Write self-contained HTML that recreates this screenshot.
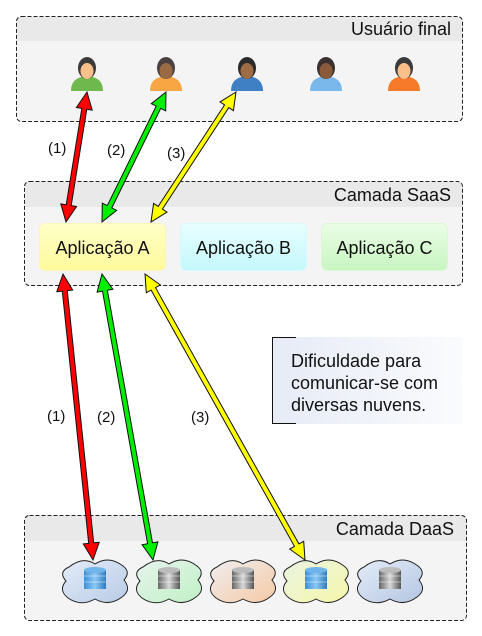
<!DOCTYPE html>
<html><head><meta charset="utf-8"><style>
html,body{margin:0;padding:0;background:#fff;}
svg{display:block;font-family:"Liberation Sans",sans-serif;}
</style></head><body>
<svg id="s" width="482" height="636" viewBox="0 0 482 636" xmlns="http://www.w3.org/2000/svg">
<defs>
<linearGradient id="ga" x1="0" y1="0" x2="0" y2="1"><stop offset="0" stop-color="#ffffc8"/><stop offset="1" stop-color="#fdfa9a"/></linearGradient>
<linearGradient id="gb" x1="0" y1="0" x2="0" y2="1"><stop offset="0" stop-color="#e8feff"/><stop offset="1" stop-color="#c4f8fc"/></linearGradient>
<linearGradient id="gc" x1="0" y1="0" x2="0" y2="1"><stop offset="0" stop-color="#eafde6"/><stop offset="1" stop-color="#c8f5c0"/></linearGradient>
<linearGradient id="gn" x1="0" y1="0" x2="1" y2="0"><stop offset="0" stop-color="#e6ebf6"/><stop offset="1" stop-color="#fafbfd"/></linearGradient>
<linearGradient id="c1" x1="0" y1="0" x2="1" y2="1"><stop offset="0" stop-color="#e4ecf8"/><stop offset="1" stop-color="#b8cbe6"/></linearGradient>
<linearGradient id="c2" x1="0" y1="0" x2="1" y2="1"><stop offset="0" stop-color="#e8f4ee"/><stop offset="1" stop-color="#bff0c4"/></linearGradient>
<linearGradient id="c3" x1="0" y1="0" x2="1" y2="1"><stop offset="0" stop-color="#f0eef0"/><stop offset="1" stop-color="#f5c9a4"/></linearGradient>
<linearGradient id="c4" x1="0" y1="0" x2="1" y2="1"><stop offset="0" stop-color="#eaf4e4"/><stop offset="1" stop-color="#f6f7a8"/></linearGradient>
<linearGradient id="c5" x1="0" y1="0" x2="1" y2="1"><stop offset="0" stop-color="#e4ecf8"/><stop offset="1" stop-color="#b4c6e2"/></linearGradient>
<linearGradient id="dbb" x1="0" y1="0" x2="1" y2="0"><stop offset="0" stop-color="#3d8fd6"/><stop offset="0.5" stop-color="#8cc8f4"/><stop offset="1" stop-color="#2f7ac0"/></linearGradient>
<linearGradient id="dbg" x1="0" y1="0" x2="1" y2="0"><stop offset="0" stop-color="#666"/><stop offset="0.5" stop-color="#d8d8d8"/><stop offset="1" stop-color="#555"/></linearGradient>
</defs>

<rect x="16.5" y="16.5" width="446" height="105" rx="5" fill="#f4f4f4"/>
<rect x="17" y="17" width="445" height="24" fill="#e9e9e9"/>
<rect x="16.5" y="16.5" width="446" height="105" rx="5" fill="none" stroke="#222" stroke-dasharray="4,2"/>
<text x="451" y="35" font-size="18" text-anchor="end" fill="#111">Usuário final</text>

<rect x="24.5" y="181.5" width="438" height="104" rx="5" fill="#f4f4f4"/>
<rect x="25" y="182" width="437" height="25" fill="#e9e9e9"/>
<rect x="24.5" y="181.5" width="438" height="104" rx="5" fill="none" stroke="#222" stroke-dasharray="4,2"/>
<text x="451" y="201" font-size="18" text-anchor="end" fill="#111">Camada SaaS</text>
<rect x="39.5" y="223.5" width="126" height="47" rx="6" fill="url(#ga)" stroke="#fbf6b8"/>
<rect x="180.5" y="223.5" width="126" height="47" rx="6" fill="url(#gb)" stroke="#d4fafe"/>
<rect x="321.5" y="223.5" width="126" height="47" rx="6" fill="url(#gc)" stroke="#dbf7d6"/>
<text x="102.5" y="254" font-size="18" text-anchor="middle" fill="#111">Aplicação A</text>
<text x="243.5" y="254" font-size="18" text-anchor="middle" fill="#111">Aplicação B</text>
<text x="384.5" y="254" font-size="18" text-anchor="middle" fill="#111">Aplicação C</text>

<rect x="272" y="337" width="190" height="87" fill="url(#gn)"/>
<path d="M296 337.5H272.5V423.5H296" fill="none" stroke="#111"/>
<text font-size="18" fill="#111"><tspan x="291" y="367">Dificuldade para</tspan><tspan x="291" y="389">comunicar-se com</tspan><tspan x="291" y="411">diversas nuvens.</tspan></text>

<rect x="24.5" y="515.5" width="442" height="105" rx="5" fill="#f4f4f4"/>
<rect x="25" y="516" width="441" height="25" fill="#e9e9e9"/>
<rect x="24.5" y="515.5" width="442" height="105" rx="5" fill="none" stroke="#222" stroke-dasharray="4,2"/>
<text x="454" y="535" font-size="18" text-anchor="end" fill="#111">Camada DaaS</text>

<g font-size="15" fill="#111">
<text x="48" y="153">(1)</text><text x="107" y="155">(2)</text><text x="167" y="158">(3)</text>
<text x="47" y="421">(1)</text><text x="97" y="422">(2)</text><text x="191" y="422">(3)</text>
</g>
<g id="dyn"></g>
</svg>
<script>
var NS="http://www.w3.org/2000/svg",g=document.getElementById("dyn");
function el(t,a){var e=document.createElementNS(NS,t);for(var k in a)e.setAttribute(k,a[k]);g.appendChild(e);return e;}
var users=[[87,"#6fb84e","#3a3a3a","#fbc08a"],[166,"#f7a643","#4a4040","#9a6a44"],[247,"#3f7fc4","#2a2a2a","#a06c44"],[326,"#7ab8ec","#3a3030","#8a5a3a"],[404,"#f67a2a","#3a3a3a","#fbc08a"]];
users.forEach(function(u){var x=u[0];
 el("path",{d:"M"+(x-16)+" 91 Q"+(x-16)+" 77 "+x+" 76 Q"+(x+16)+" 77 "+(x+16)+" 91 Z",fill:u[1]});
 el("ellipse",{cx:x,cy:68,rx:9,ry:11,fill:u[2]});
 el("ellipse",{cx:x,cy:71,rx:6.5,ry:8,fill:u[3]});
});
function arrow(x1,y1,x2,y2,c){
 var dx=x2-x1,dy=y2-y1,L=Math.sqrt(dx*dx+dy*dy),ux=dx/L,uy=dy/L,nx=-uy,ny=ux;
 var hw=2.5,hl=17,hh=8;
 function P(t,o){return [x1+ux*t+nx*o,y1+uy*t+ny*o];}
 var pts=[P(0,0),P(hl,hh),P(hl,hw),P(L-hl,hw),P(L-hl,hh),P(L,0),P(L-hl,-hh),P(L-hl,-hw),P(hl,-hw),P(hl,-hh)];
 el("polygon",{points:pts.map(function(p){return p[0].toFixed(1)+","+p[1].toFixed(1)}).join(" "),fill:c,stroke:"#111","stroke-width":1});
}
arrow(87,92,66,222,"#ff0000");
arrow(166,92,102,222,"#00ee00");
arrow(236,92,151,222,"#ffff00");
arrow(63,274,93,560,"#ff0000");
arrow(102,274,153,560,"#00ee00");
arrow(145,274,305,560,"#ffff00");
var cl=[[95,"c1","dbb"],[169,"c2","dbg"],[243,"c3","dbg"],[316,"c4","dbb"],[390,"c5","dbg"]];
cl.forEach(function(c){var x=c[0]-34,y=558;
 var d="M"+(x+8)+" "+(y+9)+" Q"+(x+22)+" "+(y-2)+" "+(x+34)+" "+(y+6)+" Q"+(x+48)+" "+(y-3)+" "+(x+62)+" "+(y+8)
 +" Q"+(x+70)+" "+(y+14)+" "+(x+63)+" "+(y+22)+" Q"+(x+71)+" "+(y+32)+" "+(x+61)+" "+(y+39)
 +" Q"+(x+48)+" "+(y+49)+" "+(x+34)+" "+(y+41)+" Q"+(x+20)+" "+(y+49)+" "+(x+7)+" "+(y+40)
 +" Q"+(x-3)+" "+(y+32)+" "+(x+5)+" "+(y+23)+" Q"+(x-3)+" "+(y+14)+" "+(x+8)+" "+(y+9)+" Z";
 el("path",{d:d,fill:"url(#"+c[1]+")",stroke:"#222","stroke-width":1});
 var cx=c[0],top=570;
 el("rect",{x:cx-11,y:top,width:22,height:19,fill:"url(#"+c[2]+")"});
 el("ellipse",{cx:cx,cy:top,rx:11,ry:3,fill:c[2]=="dbb"?"#6fb4ea":"#bbb"});
 [top+6,top+12].forEach(function(yy){el("line",{x1:cx-11,y1:yy,x2:cx+11,y2:yy,stroke:"#fff","stroke-width":0.8,"stroke-opacity":0.6});});
});
</script>
</body></html>
